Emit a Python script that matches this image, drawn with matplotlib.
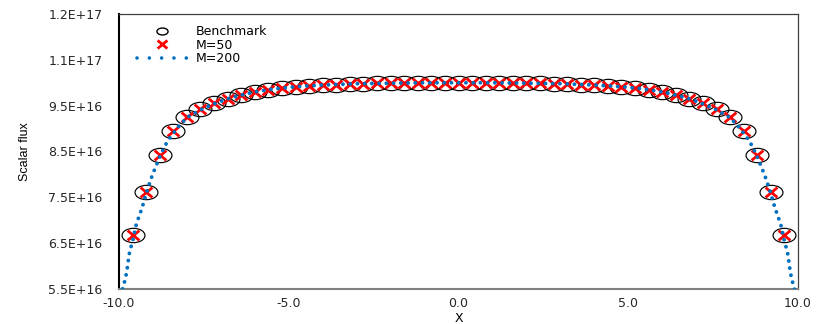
import matplotlib
matplotlib.use("Agg")
import matplotlib.pyplot as plt
from matplotlib.path import Path
from matplotlib.lines import Line2D
import numpy as np

SCALE = 1e16

# Benchmark and M=50 cell values (x in cm, flux in units of 1e16)
bench_x = [-9.6, -9.2, -8.8, -8.4, -8.0, -7.6, -7.2, -6.8, -6.4, -6.0, -5.6, -5.2, -4.8,
           -4.4, -4.0, -3.6, -3.2, -2.8, -2.4, -2.0, -1.6, -1.2, -0.8, -0.4, 0.0,
           0.4, 0.8, 1.2, 1.6, 2.0, 2.4, 2.8, 3.2, 3.6, 4.0, 4.4, 4.8, 5.2, 5.6, 6.0,
           6.4, 6.8, 7.2, 7.6, 8.0, 8.4, 8.8, 9.2, 9.6]
bench_flux = [6.68, 7.61, 8.42, 8.95, 9.25, 9.42, 9.55, 9.65, 9.73, 9.80, 9.85, 9.88, 9.91,
              9.93, 9.95, 9.96, 9.97, 9.98, 9.99, 9.99, 10.00, 10.00, 10.00, 10.00, 10.00,
              10.00, 10.00, 10.00, 10.00, 9.99, 9.99, 9.98, 9.97, 9.96, 9.95, 9.93, 9.91,
              9.88, 9.85, 9.80, 9.73, 9.65, 9.55, 9.42, 9.25, 8.95, 8.42, 7.61, 6.68]
m50_x = bench_x
m50_flux = [6.68, 7.61, 8.42, 8.95, 9.25, 9.42, 9.55, 9.65, 9.73, 9.80, 9.85, 9.88, 9.91,
            9.93, 9.95, 9.96, 9.97, 9.98, 9.99, 9.99, 10.00, 10.00, 10.00, 10.00, 10.00,
            10.00, 10.00, 10.00, 10.00, 9.99, 9.99, 9.98, 9.97, 9.96, 9.95, 9.93, 9.91,
            9.88, 9.85, 9.80, 9.73, 9.65, 9.55, 9.42, 9.25, 8.95, 8.42, 7.61, 6.68]

# M=200 curve
m200_x = [-9.95, -9.85, -9.80, -9.76, -9.73, -9.70, -9.65, -9.58, -9.51, -9.43, -9.35,
          -9.28, -9.20, -9.09, -9.02, -8.94, -8.80, -8.67, -8.55, -8.40, -8.25, -8.00,
          -7.60, -7.20, -6.80, -6.40, -6.00, -5.50, -5.00, -4.50, -4.00, -3.00, -2.00,
          -1.00, 0.00, 1.00, 2.00, 3.00, 4.00, 4.50, 5.00, 5.50, 6.00, 6.40, 6.80, 7.20,
          7.60, 8.00, 8.25, 8.40, 8.55, 8.67, 8.80, 8.94, 9.02, 9.09, 9.20, 9.28, 9.35,
          9.43, 9.51, 9.58, 9.65, 9.70, 9.73, 9.76, 9.80, 9.85, 9.95]
m200_flux = [5.35, 5.62, 5.77, 5.94, 6.10, 6.26, 6.41, 6.60, 6.86, 7.04, 7.21,
             7.37, 7.58, 7.83, 7.98, 8.13, 8.38, 8.59, 8.75, 8.90, 9.04, 9.24,
             9.41, 9.54, 9.65, 9.73, 9.80, 9.86, 9.90, 9.93, 9.95, 9.98, 9.99,
             10.00, 10.00, 10.00, 9.99, 9.98, 9.95, 9.93, 9.90, 9.86, 9.80, 9.73, 9.65, 9.54,
             9.41, 9.24, 9.04, 8.90, 8.75, 8.59, 8.38, 8.13, 7.98, 7.83, 7.58, 7.37, 7.21,
             7.04, 6.86, 6.60, 6.41, 6.26, 6.10, 5.94, 5.77, 5.62, 5.35]

y_ticks = [5.5, 6.5, 7.5, 8.5, 9.5, 10.5, 11.5]
y_tick_labels = ["5.5E+16", "6.5E+16", "7.5E+16", "8.5E+16", "9.5E+16", "1.1E+17", "1.2E+17"]
x_ticks = [-10.0, -5.0, 0.0, 5.0, 10.0]
x_tick_labels = ["-10.0", "-5.0", "0.0", "5.0", "10.0"]

plt.rcParams['font.family'] = ['DejaVu Sans']

fig = plt.figure(figsize=(8.3, 3.24), dpi=100)
ax = fig.add_axes([119/830, 1-289/324, (798-119)/830, (289-14)/324])

# elliptical ring marker and stretched cross marker
uc = Path.unit_circle()
ellipse = Path(uc.vertices * np.array([1.6, 1.0]), uc.codes)
cross = Path([(-1.2, -1), (1.2, 1), (-1.2, 1), (1.2, -1)],
             [Path.MOVETO, Path.LINETO, Path.MOVETO, Path.LINETO])

bx = np.array(bench_x)
ax.plot(bx, np.array(bench_flux) * SCALE, linestyle='none', marker=ellipse,
        markersize=16.5, markerfacecolor='none', markeredgecolor='black',
        markeredgewidth=0.85, zorder=3)
ax.plot(np.array(m50_x), np.array(m50_flux) * SCALE, linestyle='none', marker=cross,
        markersize=8.5, markerfacecolor='none', markeredgecolor='#FF0000',
        markeredgewidth=2.0, zorder=4)
ax.plot(np.array(m200_x), np.array(m200_flux) * SCALE, color='#0070C0', linewidth=2.8,
        linestyle=(0, (0.01, 1.85)), dash_capstyle='round', zorder=5)

ax.set_xlim(-10, 10)
ax.set_ylim(5.5 * SCALE, 11.5 * SCALE)
ax.set_xticks(x_ticks)
ax.set_xticklabels(x_tick_labels)
ax.set_yticks([v * SCALE for v in y_ticks])
ax.set_yticklabels(y_tick_labels)
ax.tick_params(axis='both', length=0, labelsize=9, colors='#262626')
ax.tick_params(axis='y', pad=12)
ax.tick_params(axis='x', pad=6)

ax.spines['left'].set_color('black')
ax.spines['left'].set_linewidth(1.5)
ax.spines['bottom'].set_color('#808080')
ax.spines['bottom'].set_linewidth(1.5)
for s in ('top', 'right'):
    ax.spines[s].set_color('#404040')
    ax.spines[s].set_linewidth(0.9)

ax.set_xlabel('X', fontsize=9)
ax.xaxis.set_label_coords(0.5, -0.082)
ax.set_ylabel('Scalar flux', fontsize=9, family=['Liberation Sans'], labelpad=12)

handles = [
    Line2D([], [], linestyle='none', marker=ellipse, markersize=8, markerfacecolor='none',
           markeredgecolor='black', markeredgewidth=1.0),
    Line2D([], [], linestyle='none', marker=cross, markersize=7, markerfacecolor='none',
           markeredgecolor='#FF0000', markeredgewidth=2.0),
    Line2D([], [], color='#0070C0', linewidth=2.6, linestyle=(0, (0.01, 3.4)),
           dash_capstyle='round'),
]
ax.legend(handles, ['Benchmark', 'M=50', 'M=200'], loc='upper left',
          bbox_to_anchor=(0.026, 0.96), frameon=False, fontsize=9,
          handlelength=4.1, handletextpad=0.65, labelspacing=0.05,
          borderpad=0, borderaxespad=0)

fig.savefig('out.png', dpi=100)
